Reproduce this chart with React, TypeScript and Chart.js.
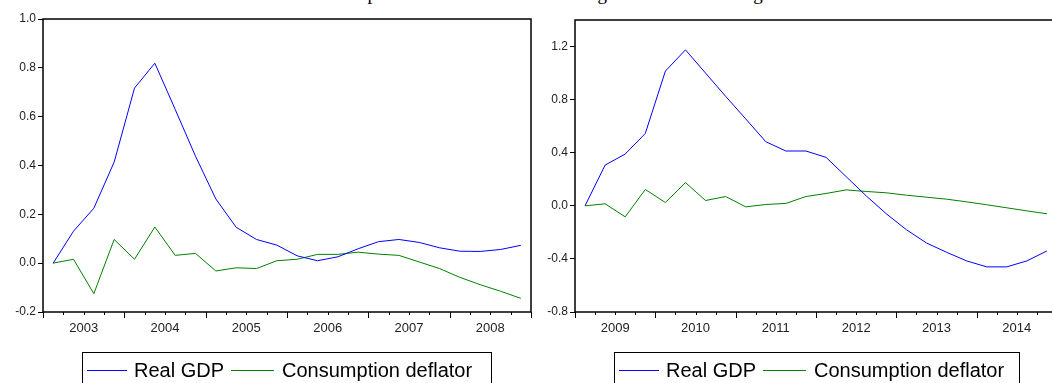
import React, { useEffect, useRef } from 'react';
import { Chart, registerables } from 'chart.js';

Chart.register(...registerables);

// ---- data ----
const leftYears = ['2003', '2004', '2005', '2006', '2007', '2008'];
const rightYears = ['2009', '2010', '2011', '2012', '2013', '2014'];

const leftGdp = [0, 0.131, 0.225, 0.414, 0.717, 0.819, 0.63, 0.438, 0.263, 0.147, 0.097, 0.074,
  0.030, 0.010, 0.026, 0.059, 0.088, 0.097, 0.085, 0.063, 0.049, 0.048, 0.056, 0.073];
const leftDefl = [0, 0.016, -0.125, 0.097, 0.016, 0.148, 0.032, 0.040, -0.032, -0.019, -0.022, 0.010,
  0.016, 0.036, 0.036, 0.045, 0.037, 0.032, 0.005, -0.022, -0.058, -0.088, -0.115, -0.144];

const rightGdp = [0, 0.307, 0.39, 0.545, 1.015, 1.175, 1.0, 0.825, 0.655, 0.483, 0.413, 0.413,
  0.365, 0.22, 0.075, -0.06, -0.18, -0.28, -0.35, -0.415, -0.46, -0.46, -0.415, -0.34];
const rightDefl = [0, 0.015, -0.083, 0.123, 0.025, 0.175, 0.04, 0.07, -0.008, 0.01, 0.018, 0.07,
  0.093, 0.12, 0.108, 0.098, 0.08, 0.065, 0.05, 0.03, 0.008, -0.015, -0.038, -0.06];

const leftYTicks = [-0.2, 0.0, 0.2, 0.4, 0.6, 0.8, 1.0];
const rightYTicks = [-0.8, -0.4, 0.0, 0.4, 0.8, 1.2];

const seriesNames = ['Real GDP', 'Consumption deflator'];
const seriesColors = ['#0000ff', '#008000'];

const titleText = 'Response to a shock in the banking sector in the old regime';

const framePlugin = {
  id: 'frame',
  afterDraw(chart: any) {
    const { ctx, chartArea, scales } = chart;
    const { left, right, top, bottom } = chartArea;
    const x = scales.x;
    ctx.save();
    ctx.strokeStyle = '#000';
    ctx.lineWidth = 1.5;
    ctx.strokeRect(left, top, right - left, bottom - top);
    ctx.lineWidth = 1;
    for (let i = 0; i <= x.max; i++) {
      const px = Math.round(x.getPixelForValue(i)) + 0.5;
      const len = i % 4 === 0 ? 6 : 3;
      ctx.beginPath();
      ctx.moveTo(px, bottom);
      ctx.lineTo(px, bottom + len);
      ctx.stroke();
    }
    ctx.restore();
  },
};

type PanelProps = {
  left: number;
  width: number;
  years: string[];
  gdp: number[];
  defl: number[];
  yMin: number;
  yMax: number;
  yTicks: number[];
  padTop: number;
  padRight: number;
  yWidth: number;
};

function Panel(p: PanelProps) {
  const ref = useRef<HTMLCanvasElement>(null);
  useEffect(() => {
    const quarters = p.years.length * 4;
    const chart = new Chart(ref.current!, {
      type: 'line',
      data: {
        datasets: [p.gdp, p.defl].map((arr, k) => ({
          label: seriesNames[k],
          data: arr.map((v, i) => ({ x: i + 0.5, y: v })),
          borderColor: seriesColors[k],
          backgroundColor: seriesColors[k],
          borderWidth: 1,
          pointRadius: 0,
          tension: 0,
          fill: false,
        })),
      },
      options: {
        animation: false,
        responsive: false,
        maintainAspectRatio: false,
        events: [],
        layout: { padding: { top: p.padTop, right: p.padRight, bottom: 41, left: 0 } },
        plugins: { legend: { display: false }, tooltip: { enabled: false }, title: { display: false } },
        scales: {
          x: {
            type: 'linear',
            min: 0,
            max: quarters,
            grid: { display: false, drawTicks: false },
            border: { display: false },
            afterBuildTicks: (s: any) => {
              s.ticks = p.years.map((_, i) => ({ value: i * 4 + 2 }));
            },
            ticks: {
              autoSkip: false,
              maxRotation: 0,
              padding: 9,
              color: '#222',
              font: { family: 'Liberation Sans', size: 13 },
              callback: (_v: any, i: number) => p.years[i],
            },
            afterFit: (s: any) => {
              s.height = 30;
            },
          },
          y: {
            type: 'linear',
            min: p.yMin,
            max: p.yMax,
            afterBuildTicks: (s: any) => {
              s.ticks = p.yTicks.map((v) => ({ value: v }));
            },
            grid: { drawOnChartArea: false, drawTicks: true, tickLength: 5, color: '#000' },
            border: { display: false },
            ticks: {
              padding: 2,
              color: '#222',
              font: { family: 'Liberation Sans', size: 12 },
              callback: (v: any) => Number(v).toFixed(1),
            },
            afterFit: (s: any) => {
              s.width = p.yWidth;
            },
          },
        },
      } as any,
      plugins: [framePlugin],
    });
    return () => chart.destroy();
  }, []);
  return (
    <canvas
      ref={ref}
      width={p.width}
      height={383}
      style={{ position: 'absolute', left: p.left, top: 0, width: p.width, height: 383 }}
    />
  );
}

function Legend({ left, width }: { left: number; width: number }) {
  return (
    <div
      style={{
        position: 'absolute',
        left,
        top: 352,
        width,
        height: 40,
        boxSizing: 'border-box',
        border: '1px solid #000',
        display: 'flex',
        alignItems: 'center',
        justifyContent: 'flex-start',
        paddingLeft: 4,
        fontFamily: 'Liberation Sans, Arial, sans-serif',
        fontSize: 20,
        color: '#000',
        paddingBottom: 4,
      }}
    >
      {seriesNames.map((n, k) => (
        <div key={n} style={{ display: 'flex', alignItems: 'center', marginLeft: k ? 7 : 0 }}>
          <div style={{ width: k ? 43 : 40, height: 1, background: seriesColors[k], marginRight: k ? 8 : 7 }} />
          <span>{n}</span>
        </div>
      ))}
    </div>
  );
}

export default function App() {
  return (
    <div
      style={{
        position: 'fixed',
        left: 0,
        top: 0,
        width: 1052,
        height: 383,
        overflow: 'hidden',
        background: '#fff',
      }}
    >
      <div
        style={{
          position: 'absolute',
          left: 339,
          top: -16.4,
          whiteSpace: 'nowrap',
          fontFamily: 'Liberation Serif, Times New Roman, serif',
          fontSize: 19,
          lineHeight: '19px',
          color: '#000',
        }}
      >
        {titleText}
      </div>
      <Panel left={0} width={545} years={leftYears} gdp={leftGdp} defl={leftDefl}
        yMin={-0.2} yMax={1.0} yTicks={leftYTicks} padTop={19} padRight={14} yWidth={43} />
      <Panel left={533} width={538} years={rightYears} gdp={rightGdp} defl={rightDefl}
        yMin={-0.8} yMax={1.4} yTicks={rightYTicks} padTop={20} padRight={14} yWidth={42} />
      <Legend left={82} width={410} />
      <Legend left={614} width={406} />
    </div>
  );
}
